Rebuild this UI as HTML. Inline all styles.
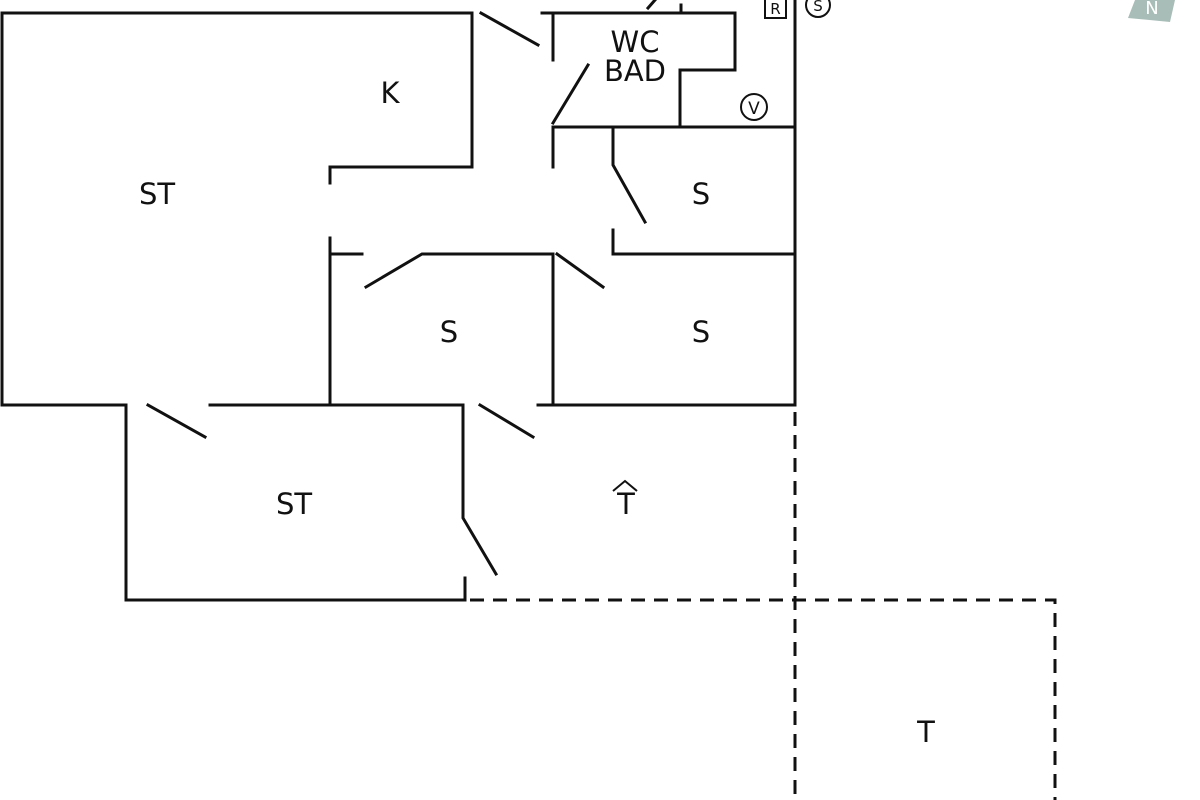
<!DOCTYPE html>
<html><head><style>
body{margin:0;background:#fff;width:1200px;height:800px;overflow:hidden}
svg{display:block}
text{font-family:"DejaVu Sans","Liberation Sans",sans-serif;fill:#111}
</style></head><body>
<svg width="1200" height="800" viewBox="0 0 1200 800">
<g stroke="#111" stroke-width="3" fill="none" stroke-linecap="square">
<path d="M2 13H472V167H330V183"/>
<path d="M2 13V405H125"/>
<path d="M481 13L538 45"/>
<path d="M542 13H735V70H680V127"/>
<path d="M553 13V60"/>
<path d="M553 123L588 65"/>
<path d="M553 127H795"/>
<path d="M553 127V167"/>
<path d="M681 5V13"/>
<path d="M648 8L655 0"/>
<path d="M795 0V405"/>
<path d="M613 127V165L645 222"/>
<path d="M613 230V254H795"/>
<path d="M330 238V405"/>
<path d="M330 254H362"/>
<path d="M366 287L422 254H553V405"/>
<path d="M557 254L603 287"/>
<path d="M148 405L205 437"/>
<path d="M210 405H462"/>
<path d="M480 405L533 437"/>
<path d="M538 405H795"/>
<path d="M126 405V600H465V578"/>
<path d="M463 405V518L496 574"/>
</g>
<g stroke="#111" stroke-width="3" fill="none" stroke-dasharray="14 9">
<path d="M470 600H1055V800"/>
<path d="M795 412V800"/>
</g>
<rect x="765" y="-3" width="21" height="21" fill="none" stroke="#111" stroke-width="2"/>
<text x="775.5" y="14" font-size="15" text-anchor="middle">R</text>
<circle cx="818" cy="5" r="12" fill="none" stroke="#111" stroke-width="2"/>
<text x="818" y="11" font-size="15" text-anchor="middle">S</text>
<circle cx="754" cy="107" r="13" fill="none" stroke="#111" stroke-width="2"/>
<text x="754" y="114" font-size="17" text-anchor="middle">V</text>
<polygon points="1135,0 1175,0 1170,22 1128,18" fill="#a9bdb8"/>
<text x="1152" y="14" font-size="18" style="fill:#fff" text-anchor="middle">N</text>
<g font-size="29" text-anchor="middle" font-weight="500">
<text x="390" y="103">K</text>
<text x="157" y="204">ST</text>
<text x="635" y="52">WC</text>
<text x="635" y="81">BAD</text>
<text x="701" y="204">S</text>
<text x="449" y="342">S</text>
<text x="701" y="342">S</text>
<text x="294" y="514">ST</text>
<text x="626" y="514">T</text>
<text x="926" y="742">T</text>
</g>
<path d="M613 491L625 481L637 491" fill="none" stroke="#111" stroke-width="2"/>
</svg>
</body></html>
